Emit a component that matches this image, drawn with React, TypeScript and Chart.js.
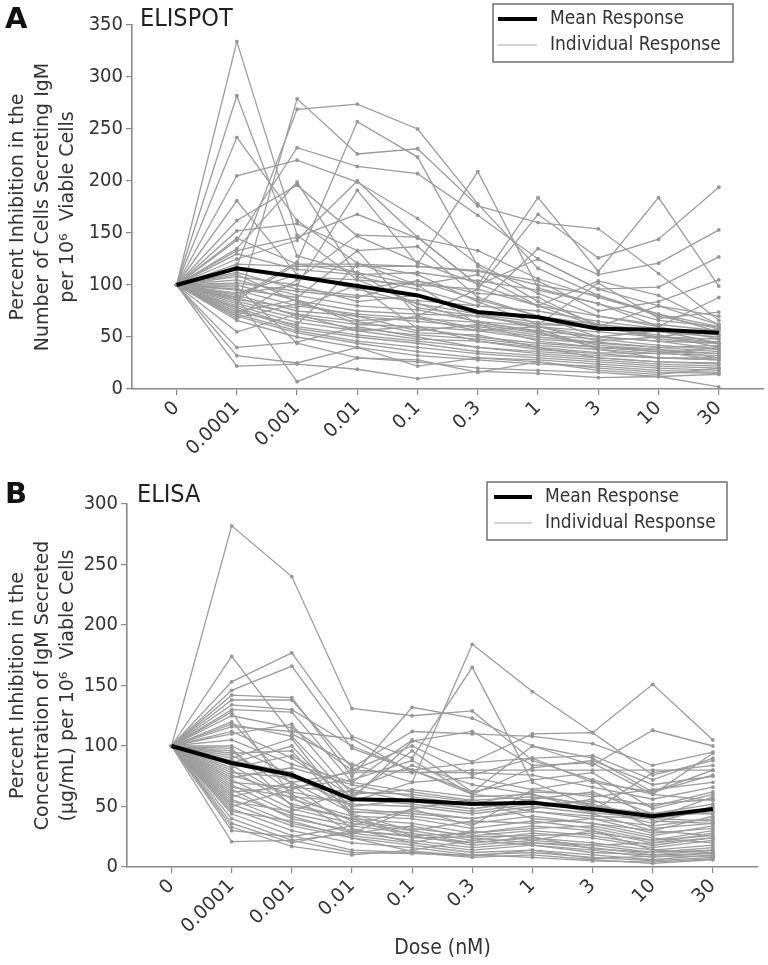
import React, { useEffect, useRef } from "react";
import { Chart, registerables } from "chart.js";

Chart.register(...registerables);

// ---------- data ----------
const DOSES = ["0", "0.0001", "0.001", "0.01", "0.1", "0.3", "1", "3", "10", "30"];

const ELISPOT_MEAN = [100, 116, 108, 99, 90, 74, 69, 58, 57, 54];
const ELISA_MEAN = [100, 86, 76, 56, 55, 52, 53, 48, 42, 48];

const ELISPOT_INDIVIDUAL: number[][] = [
  [100, 334, 148, 105, 82, 64, 55, 42, 38, 30],
  [100, 282, 128, 112, 78, 70, 60, 50, 56, 44],
  [100, 242, 162, 121, 100, 62, 46, 40, 36, 28],
  [100, 205, 220, 199, 164, 120, 92, 70, 60, 48],
  [100, 181, 110, 96, 82, 72, 58, 38, 34, 40],
  [100, 162, 196, 147, 122, 101, 80, 60, 50, 45],
  [100, 152, 159, 133, 137, 88, 70, 50, 46, 38],
  [100, 143, 232, 214, 207, 167, 125, 96, 80, 62],
  [100, 133, 146, 168, 145, 133, 106, 88, 72, 55],
  [100, 78, 279, 226, 231, 176, 160, 154, 111, 66],
  [100, 118, 269, 274, 250, 178, 116, 90, 70, 58],
  [100, 88, 122, 257, 223, 118, 84, 62, 56, 52],
  [100, 108, 100, 191, 120, 209, 97, 82, 66, 60],
  [100, 125, 143, 200, 146, 100, 184, 113, 184, 99],
  [100, 96, 88, 133, 70, 96, 168, 126, 144, 194],
  [100, 135, 199, 108, 96, 80, 135, 110, 121, 153],
  [100, 70, 105, 148, 146, 100, 125, 96, 98, 127],
  [100, 145, 120, 120, 118, 113, 104, 75, 84, 105],
  [100, 130, 115, 110, 112, 104, 95, 82, 60, 88],
  [100, 120, 118, 118, 118, 114, 100, 90, 72, 60],
  [100, 115, 108, 105, 100, 96, 80, 70, 62, 56],
  [100, 112, 96, 90, 85, 80, 75, 65, 58, 52],
  [100, 105, 90, 80, 76, 65, 60, 55, 50, 48],
  [100, 100, 85, 75, 72, 70, 62, 60, 55, 50],
  [100, 95, 80, 72, 68, 64, 56, 50, 46, 44],
  [100, 92, 100, 84, 90, 72, 64, 58, 52, 40],
  [100, 90, 75, 70, 65, 60, 52, 48, 42, 38],
  [100, 88, 70, 62, 60, 56, 48, 44, 40, 36],
  [100, 86, 78, 100, 58, 50, 44, 40, 38, 34],
  [100, 84, 72, 65, 54, 52, 40, 35, 34, 32],
  [100, 82, 68, 58, 52, 48, 42, 38, 30, 30],
  [100, 80, 64, 56, 48, 46, 38, 34, 30, 28],
  [100, 78, 60, 52, 46, 40, 34, 30, 26, 25],
  [100, 76, 58, 50, 44, 36, 32, 28, 24, 22],
  [100, 74, 86, 62, 70, 58, 50, 45, 40, 42],
  [100, 72, 56, 46, 40, 34, 30, 26, 22, 20],
  [100, 70, 54, 44, 36, 30, 28, 24, 20, 18],
  [100, 68, 82, 70, 56, 62, 54, 40, 36, 34],
  [100, 66, 50, 40, 32, 28, 24, 22, 18, 16],
  [100, 92, 110, 96, 104, 86, 70, 62, 48, 44],
  [100, 55, 72, 56, 60, 46, 40, 30, 26, 24],
  [100, 40, 45, 60, 50, 40, 36, 32, 30, 28],
  [100, 32, 25, 40, 22, 30, 26, 20, 16, 15],
  [100, 22, 24, 19, 10, 17, 15, 11, 12, 2],
  [100, 88, 7, 30, 28, 16, 26, 18, 14, 20],
  [100, 98, 44, 30, 26, 20, 18, 16, 12, 14],
  [100, 74, 62, 120, 110, 84, 62, 102, 68, 74],
  [100, 102, 94, 88, 104, 92, 88, 60, 80, 70],
  [100, 86, 120, 112, 100, 110, 80, 104, 90, 62],
  [100, 110, 84, 66, 68, 56, 60, 46, 50, 58],
];

const ELISA_INDIVIDUAL: number[][] = [
  [100, 282, 240, 131, 125, 129, 88, 72, 60, 55],
  [100, 174, 110, 85, 70, 184, 145, 111, 151, 105],
  [100, 153, 177, 108, 90, 165, 70, 50, 42, 48],
  [100, 146, 166, 98, 80, 60, 55, 45, 40, 38],
  [100, 142, 140, 75, 132, 123, 100, 84, 113, 100],
  [100, 138, 138, 82, 112, 110, 108, 102, 84, 95],
  [100, 130, 128, 70, 105, 87, 110, 111, 76, 88],
  [100, 125, 115, 80, 100, 76, 90, 70, 62, 80],
  [100, 116, 112, 106, 78, 80, 80, 80, 80, 80],
  [100, 112, 90, 58, 96, 62, 72, 78, 48, 60],
  [100, 110, 118, 60, 64, 58, 60, 50, 44, 52],
  [100, 105, 85, 70, 62, 55, 58, 52, 40, 46],
  [100, 100, 76, 50, 56, 48, 54, 48, 36, 50],
  [100, 96, 62, 52, 50, 44, 50, 44, 30, 42],
  [100, 92, 70, 45, 46, 40, 46, 40, 34, 40],
  [100, 88, 78, 46, 42, 36, 42, 36, 26, 34],
  [100, 84, 56, 42, 40, 32, 38, 32, 22, 30],
  [100, 80, 52, 40, 36, 28, 34, 30, 20, 28],
  [100, 76, 60, 38, 32, 26, 30, 26, 18, 24],
  [100, 72, 48, 36, 30, 22, 28, 24, 16, 22],
  [100, 68, 44, 34, 28, 20, 24, 20, 14, 18],
  [100, 64, 40, 30, 26, 18, 22, 18, 12, 16],
  [100, 60, 42, 28, 22, 16, 20, 16, 10, 14],
  [100, 56, 36, 26, 20, 14, 18, 14, 8, 12],
  [100, 52, 34, 24, 18, 12, 14, 10, 6, 10],
  [100, 48, 30, 20, 16, 10, 12, 8, 5, 8],
  [100, 44, 26, 14, 12, 8, 10, 6, 3, 6],
  [100, 40, 22, 12, 11, 10, 8, 5, 4, 7],
  [100, 36, 20, 30, 25, 20, 25, 15, 12, 14],
  [100, 33, 17, 10, 14, 22, 18, 12, 10, 11],
  [100, 30, 25, 34, 48, 56, 40, 36, 30, 26],
  [100, 21, 22, 28, 34, 24, 20, 18, 20, 24],
  [100, 50, 64, 80, 78, 78, 76, 66, 56, 66],
  [100, 58, 70, 78, 80, 86, 90, 92, 72, 90],
  [100, 62, 66, 72, 88, 60, 82, 88, 68, 75],
  [100, 66, 58, 54, 70, 74, 64, 58, 64, 70],
  [100, 70, 66, 62, 60, 54, 46, 42, 40, 58],
  [100, 74, 82, 68, 58, 52, 62, 60, 50, 62],
  [100, 78, 74, 56, 52, 46, 52, 54, 52, 56],
  [100, 82, 92, 64, 54, 48, 56, 62, 44, 44],
  [100, 86, 100, 48, 44, 40, 48, 56, 32, 36],
  [100, 90, 106, 44, 30, 38, 36, 40, 28, 32],
  [100, 94, 96, 42, 26, 28, 32, 34, 24, 20],
  [100, 98, 50, 40, 24, 25, 26, 28, 22, 26],
  [100, 120, 68, 32, 20, 30, 22, 30, 14, 12],
  [100, 128, 58, 28, 48, 34, 64, 72, 38, 36],
  [100, 134, 130, 100, 80, 62, 100, 90, 62, 76],
  [100, 118, 108, 56, 104, 112, 84, 86, 60, 94],
  [100, 46, 38, 24, 13, 9, 14, 7, 9, 9],
  [100, 54, 46, 64, 84, 68, 60, 46, 78, 84],
];

const ELISPOT_Y_TITLE = ["Percent Inhibition in the", "Number of Cells Secreting IgM", "per 10\u2076  Viable Cells"];
const ELISA_Y_TITLE = ["Percent Inhibition in the", "Concentration of IgM Secreted", "(\u00b5g/mL) per 10\u2076  Viable Cells"];
const LEGEND_LABELS = ["Mean Response", "Individual Response"];

// ---------- styling ----------
const GRAY_LINE = "#9c9c9c";
const AXIS = "#8a8a8a";
const TEXT = "#333333";
const COND = "'DejaVu Sans Condensed', 'DejaVu Sans', sans-serif";
const SANS = "'DejaVu Sans', sans-serif";

type PanelSpec = {
  letter: string;
  title: string;
  mean: number[];
  individual: number[][];
  yMax: number;
  yTitle: string[];
  xTitle?: string;
  height: number;
  axisWidth: number;
  xAxisHeight: number;
  padTop: number;
  padRight: number;
  letterPos: [number, number];
  titlePos: [number, number];
  legendBox: [number, number, number, number];
  legendRows: [number, number];
  legendLineX: [number, number];
  legendTextX: number;
};

const overlayPlugin = {
  id: "overlay",
  afterDraw(chart: any, _args: any, o: any) {
    const ctx = chart.ctx as CanvasRenderingContext2D;
    ctx.save();
    ctx.textBaseline = "middle";
    ctx.textAlign = "left";
    ctx.fillStyle = "#111";
    ctx.font = `bold 29px ${SANS}`;
    ctx.fillText(o.letter, o.letterPos[0], o.letterPos[1]);
    ctx.fillStyle = "#222";
    ctx.font = `25px ${COND}`;
    ctx.fillText(o.title, o.titlePos[0], o.titlePos[1]);
    // legend
    const [bx, by, bw, bh] = o.legendBox;
    ctx.fillStyle = "#fff";
    ctx.fillRect(bx, by, bw, bh);
    ctx.strokeStyle = "#707070";
    ctx.lineWidth = 1.5;
    ctx.strokeRect(bx, by, bw, bh);
    ctx.lineCap = "butt";
    ctx.strokeStyle = "#000";
    ctx.lineWidth = 4;
    ctx.beginPath();
    ctx.moveTo(o.legendLineX[0], o.legendRows[0]);
    ctx.lineTo(o.legendLineX[1], o.legendRows[0]);
    ctx.stroke();
    ctx.strokeStyle = "#c4c4c4";
    ctx.lineWidth = 1.5;
    ctx.beginPath();
    ctx.moveTo(o.legendLineX[0], o.legendRows[1]);
    ctx.lineTo(o.legendLineX[1], o.legendRows[1]);
    ctx.stroke();
    ctx.fillStyle = TEXT;
    ctx.font = `19px ${COND}`;
    ctx.fillText(o.labels[0], o.legendTextX, o.legendRows[0]);
    ctx.fillText(o.labels[1], o.legendTextX, o.legendRows[1]);
    ctx.restore();
  },
};

function Panel({ spec }: { spec: PanelSpec }) {
  const ref = useRef<HTMLCanvasElement | null>(null);
  useEffect(() => {
    if (!ref.current) return;
    const individualSets = spec.individual.map((vals) => ({
      label: LEGEND_LABELS[1],
      data: vals.map((v, i) => ({ x: i, y: v })),
      borderColor: GRAY_LINE,
      backgroundColor: GRAY_LINE,
      borderWidth: 1.3,
      pointRadius: 1.9,
      pointBorderWidth: 0,
      pointBackgroundColor: "#969696",
      order: 2,
    }));
    const meanSet = {
      label: LEGEND_LABELS[0],
      data: spec.mean.map((v, i) => ({ x: i, y: v })),
      borderColor: "#000",
      backgroundColor: "#000",
      borderWidth: 4,
      pointRadius: 0,
      order: 0,
    };
    const chart = new Chart(ref.current, {
      type: "line",
      data: { datasets: [meanSet, ...individualSets] as any },
      plugins: [overlayPlugin as any],
      options: {
        animation: false,
        responsive: false,
        maintainAspectRatio: false,
        devicePixelRatio: 1,
        layout: { padding: { top: spec.padTop, right: spec.padRight, left: 0, bottom: 0 } },
        plugins: {
          legend: { display: false },
          tooltip: { enabled: false },
          overlay: {
            letter: spec.letter,
            title: spec.title,
            letterPos: spec.letterPos,
            titlePos: spec.titlePos,
            legendBox: spec.legendBox,
            legendRows: spec.legendRows,
            legendLineX: spec.legendLineX,
            legendTextX: spec.legendTextX,
            labels: LEGEND_LABELS,
          },
        } as any,
        scales: {
          x: {
            type: "linear",
            min: -0.74,
            max: 9.75,
            afterBuildTicks: (s: any) => {
              s.ticks = DOSES.map((_, i) => ({ value: i }));
            },
            afterFit: (s: any) => {
              s.height = spec.xAxisHeight;
            },
            ticks: {
              autoSkip: false,
              maxRotation: 45,
              minRotation: 45,
              padding: 2,
              color: TEXT,
              font: { family: SANS, size: 19 },
              callback: (v: any) => DOSES[Math.round(Number(v))] ?? "",
            },
            grid: {
              display: true,
              drawOnChartArea: false,
              drawTicks: true,
              tickLength: 6,
              color: AXIS,
              lineWidth: 1.2,
            },
            border: { display: true, color: AXIS, width: 1.6 },
            title: spec.xTitle
              ? {
                  display: true,
                  text: spec.xTitle,
                  color: TEXT,
                  font: { family: COND, size: 21, lineHeight: 1.2 },
                  padding: { top: 0, bottom: 4 },
                }
              : { display: false },
          },
          y: {
            type: "linear",
            min: 0,
            max: spec.yMax,
            afterFit: (s: any) => {
              s.width = spec.axisWidth;
            },
            ticks: {
              stepSize: 50,
              padding: 3,
              color: TEXT,
              font: { family: COND, size: 20 },
            },
            grid: {
              display: true,
              drawOnChartArea: false,
              drawTicks: true,
              tickLength: 6,
              color: AXIS,
              lineWidth: 1.2,
            },
            border: { display: true, color: AXIS, width: 1.6 },
            title: {
              display: true,
              text: spec.yTitle,
              color: TEXT,
              font: { family: SANS, size: 19, lineHeight: 1.3 },
              padding: { top: 6, bottom: 0 },
            },
          },
        },
      } as any,
    });
    return () => chart.destroy();
  }, [spec]);
  return <canvas ref={ref} width={768} height={spec.height} style={{ display: "block" }} />;
}

const PANEL_A: PanelSpec = {
  letter: "A",
  title: "ELISPOT",
  mean: ELISPOT_MEAN,
  individual: ELISPOT_INDIVIDUAL,
  yMax: 350,
  yTitle: ELISPOT_Y_TITLE,
  height: 460,
  axisWidth: 132,
  xAxisHeight: 71,
  padTop: 25,
  padRight: 3,
  letterPos: [5, 20],
  titlePos: [140, 19],
  legendBox: [493, 4, 240, 58],
  legendRows: [19, 45],
  legendLineX: [498, 537],
  legendTextX: 550,
};

const PANEL_B: PanelSpec = {
  letter: "B",
  title: "ELISA",
  mean: ELISA_MEAN,
  individual: ELISA_INDIVIDUAL,
  yMax: 300,
  yTitle: ELISA_Y_TITLE,
  xTitle: "Dose (nM)",
  height: 505,
  axisWidth: 127,
  xAxisHeight: 98,
  padTop: 44,
  padRight: 10,
  letterPos: [5, 35],
  titlePos: [137, 35],
  legendBox: [487, 22, 240, 58],
  legendRows: [37, 63],
  legendLineX: [494, 532],
  legendTextX: 545,
};

export default function App() {
  return (
    <div style={{ position: "absolute", left: 0, top: 0, width: 768, height: 965, background: "#fff" }}>
      <Panel spec={PANEL_A} />
      <Panel spec={PANEL_B} />
    </div>
  );
}
